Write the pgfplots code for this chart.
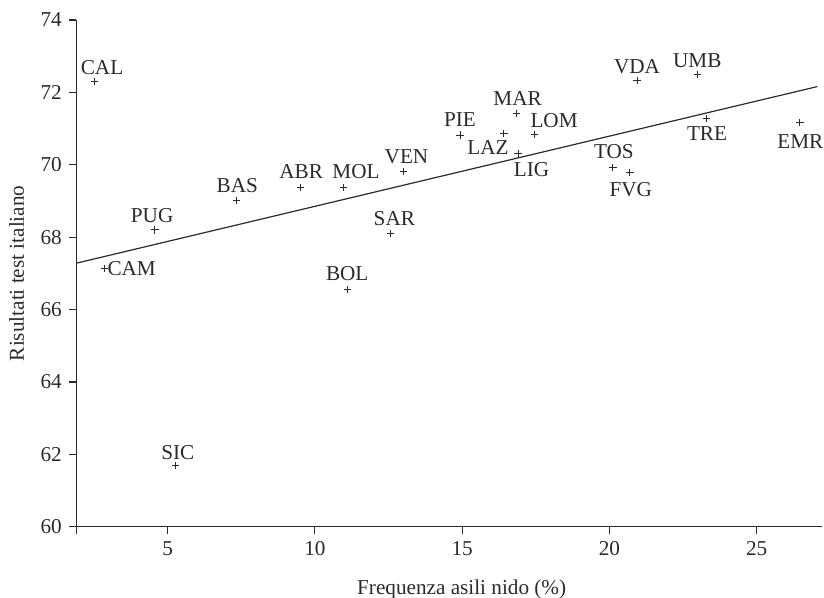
\documentclass[border=0pt]{standalone}
\usepackage{pgfplots}
\usepackage{pgfplotstable}
\pgfplotsset{compat=1.18}
\usepackage{fontspec}
\setmainfont{Liberation Serif}
\definecolor{ink}{HTML}{2A2A2A}

\pgfplotstableread{
x     y     lab  dx    dy
2.53  72.31 CAL  3.6   3.5
4.57  68.20 PUG  -1.4  3.85
2.85  67.14 CAM  13.7  -3.6
7.34  69.02 BAS  0.4   3.8
5.27  61.68 SIC  1.15  3.35
9.52  69.38 ABR  0.25  4.3
10.96 69.37 MOL  6.45  4.5
13.02 69.81 VEN  1.35  4.2
12.58 68.10 SAR  1.75  4.2
11.10 66.56 BOL  0.0   4.15
14.93 70.82 PIE  0.0   4.15
16.42 70.86 LAZ  -8.0  -10.65
16.85 71.42 MAR  0.5   3.8
17.47 70.83 LOM  9.6   3.7
16.90 70.32 LIG  6.7   -11.7
20.94 72.33 VDA  0.0   3.5
20.12 69.92 TOS  0.5   4.35
20.70 69.78 FVG  0.4   -11.65
22.98 72.50 UMB  0.1   3.5
23.30 71.27 TRE  0.25  -11.0
26.47 71.17 EMR  0.25  -13.0
}\regions

\pgfplotstableread{
x     y
1.90  67.28
27.06 72.16
}\fitline

\begin{document}
\begin{tikzpicture}
\useasboundingbox (0,0) rectangle (412pt,299pt);
\begin{axis}[
  at={(38.15pt,35.65pt)}, anchor=south west,
  scale only axis, width=372.7pt, height=253.35pt,
  xmin=1.9, xmax=27.21, ymin=60, ymax=74,
  axis x line*=bottom, axis y line*=left,
  axis line style={-, ink, line width=0.6pt},
  xtick={5,10,15,20,25}, ytick={60,62,...,74},
  extra x ticks={1.9}, extra x tick labels={},
  tick align=outside, major tick length=3.7pt,
  tick style={ink, line width=0.6pt},
  minor tick num=0,
  /pgf/number format/assume math mode=true,
  ticklabel style={font=\fontsize{10.6}{12}\selectfont, text=ink},
  label style={font=\fontsize{10.6}{12}\selectfont, text=ink},
  xlabel={Frequenza asili nido (\%)},
  ylabel={Risultati test italiano},
  xlabel style={at={(axis description cs:0.517,-0.1348)}, anchor=base},
  ylabel style={at={(axis description cs:-0.080,0.5)}, anchor=center},
  clip=false,
]
\addplot[ink, line width=0.6pt, no marks] table[x=x,y=y]{\fitline};
\addplot[only marks, mark=+, mark size=1.8pt, ink, mark options={line width=0.5pt},
  point meta=explicit symbolic,
  nodes near coords,
  visualization depends on={\thisrow{dx}\as\labdx},
  visualization depends on={\thisrow{dy}\as\labdy},
  every node near coord/.append style={anchor=base, inner sep=0pt,
    xshift=\labdx*1pt, yshift=\labdy*1pt,
    font=\fontsize{10.6}{12}\selectfont, text=ink},
] table[x=x,y=y,meta=lab]{\regions};
\end{axis}
\end{tikzpicture}
\end{document}
